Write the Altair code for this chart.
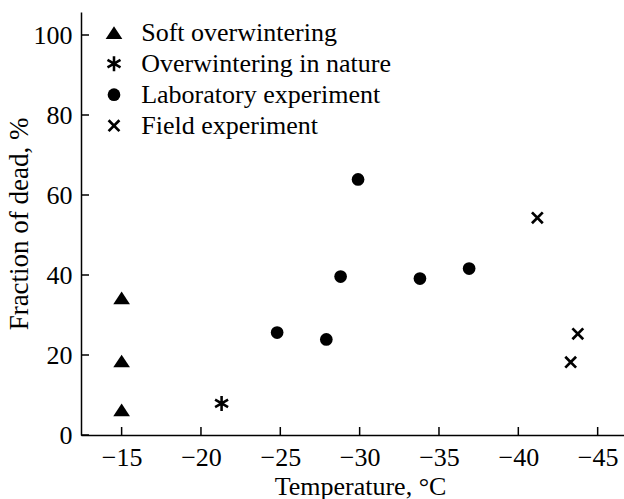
import altair as alt
import pandas as pd

groups = ["Soft overwintering", "Overwintering in nature", "Laboratory experiment", "Field experiment"]

soft_t = [-15, -15, -15]
soft_f = [34.3, 18.5, 6.3]
nature_t = [-21.3]
nature_f = [7.9]
lab_t = [-24.8, -27.9, -28.8, -29.9, -33.8, -36.9]
lab_f = [25.6, 23.9, 39.6, 63.9, 39.1, 41.6]
field_t = [-41.2, -43.3, -43.75]
field_f = [54.3, 18.2, 25.3]

x_ticks = [-15, -20, -25, -30, -35, -40, -45]
y_ticks = [0, 20, 40, 60, 80, 100]

rows = []
for g, ts, fs in zip(groups, [soft_t, nature_t, lab_t, field_t], [soft_f, nature_f, lab_f, field_f]):
    for t, f in zip(ts, fs):
        rows.append({"t": t, "f": f, "group": g})
df = pd.DataFrame(rows)

FONT = "Liberation Serif"
W, H = 543, 423

TRIANGLE = "M0,-0.76L1,0.76L-1,0.76Z"
ASTERISK = (
    "M-0.17,-1L0.17,-1L0.17,1L-0.17,1Z"
    "M-0.951,-0.353L-0.781,-0.647L0.951,0.353L0.781,0.647Z"
    "M0.781,-0.647L0.951,-0.353L-0.781,0.647L-0.951,0.353Z"
)
CROSS = (
    "M-1.177,-0.823L-0.823,-1.177L1.177,0.823L0.823,1.177Z"
    "M0.823,-1.177L1.177,-0.823L-0.823,1.177L-1.177,0.823Z"
)
shapes = [TRIANGLE, ASTERISK, "circle", CROSS]
sizes = [279, 225, 161, 117]

xscale = alt.Scale(domain=[-46.66, -12.44], reverse=True, nice=False, zero=False)
yscale = alt.Scale(domain=[0, 105.75], nice=False, zero=False)

xaxis = alt.Axis(
    values=x_ticks, ticks=False, tickSize=0, grid=False, labelPadding=9.5,
    labelFont=FONT, labelFontSize=26, labelColor="black", labelFlush=False,
    domainColor="black", domainWidth=1.5,
    title="Temperature, °C", titleFont=FONT, titleFontSize=26, titleFontWeight="normal",
    titleColor="black", titleX=279, titleY=59, titleBaseline="alphabetic", titleAlign="center",
)
yaxis = alt.Axis(
    values=y_ticks, ticks=False, tickSize=0, grid=False, labelPadding=9,
    labelFont=FONT, labelFontSize=26, labelColor="black", labelFlush=False,
    domainColor="black", domainWidth=1.5,
    title="Fraction of dead, %", titleFont=FONT, titleFontSize=27, titleFontWeight="normal",
    titleColor="black", titleX=-53.7, titleY=211.4, titleAngle=270,
    titleBaseline="alphabetic", titleAlign="center",
)

legend = alt.Legend(
    title=None, orient="none", legendX=20, legendY=7.7, padding=0,
    labelFont=FONT, labelFontSize=26, labelColor="black", labelOffset=14.2, labelLimit=400,
    rowPadding=5, symbolFillColor="black", symbolOpacity=1, symbolStrokeWidth=0,
)

points = alt.Chart(df).mark_point(
    filled=True, fill="black", opacity=1, strokeWidth=0
).encode(
    x=alt.X("t:Q", scale=xscale, axis=xaxis),
    y=alt.Y("f:Q", scale=yscale, axis=yaxis),
    shape=alt.Shape("group:N", scale=alt.Scale(domain=groups, range=shapes), legend=legend, sort=groups),
    size=alt.Size("group:N", scale=alt.Scale(type="ordinal", domain=groups, range=sizes), legend=legend, sort=groups),
)

xt = alt.Chart(pd.DataFrame({"t": x_ticks})).mark_rule(color="black", strokeWidth=1.5).encode(
    x=alt.X("t:Q", scale=xscale, axis=xaxis),
    y=alt.value(H),
    y2=alt.value(H - 8),
)
yt = alt.Chart(pd.DataFrame({"f": y_ticks})).mark_rule(color="black", strokeWidth=1.5).encode(
    y=alt.Y("f:Q", scale=yscale, axis=yaxis),
    x=alt.value(0),
    x2=alt.value(8),
)

chart = alt.layer(points, xt, yt).properties(
    width=W, height=H,
    autosize=alt.AutoSizeParams(type="none"),
    padding={"left": 81, "top": 12, "right": 0, "bottom": 64},
    background="white",
).configure_view(stroke="transparent")

chart.save("out.html", embed_options={"renderer": "svg", "actions": False})
